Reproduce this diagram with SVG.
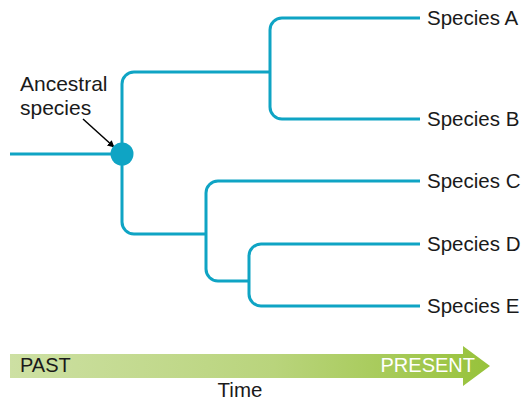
<svg xmlns="http://www.w3.org/2000/svg" width="525" height="404" viewBox="0 0 525 404">
  <defs>
    <style>
      .br { fill: none; stroke: #0fa4c4; stroke-width: 3; stroke-linecap: butt; stroke-linejoin: round; }
      .lbl { font-family: "Liberation Sans", Arial, sans-serif; font-size: 20.5px; fill: #1a1a1a; }
      .anc { font-size: 21px; }
      .bar { font-family: "Liberation Sans", Arial, sans-serif; font-size: 20px; }
    </style>
    <linearGradient id="timeGrad" x1="10" y1="0" x2="490" y2="0" gradientUnits="userSpaceOnUse">
      <stop offset="0" stop-color="#cde0a3"/>
      <stop offset="0.55" stop-color="#b9d47c"/>
      <stop offset="1" stop-color="#97c23a"/>
    </linearGradient>
    <marker id="blackArrow" viewBox="0 0 10 10" refX="9" refY="5" markerWidth="7" markerHeight="7" orient="auto" markerUnits="userSpaceOnUse">
      <path d="M0,0 L10,5 L0,10 z" fill="#000"/>
    </marker>
  </defs>
  <rect width="525" height="404" fill="#ffffff"/>

  <g id="connectors">
    <path class="br" d="M10,154 H122"/>
    <path class="br" d="M270,72 H134 A12,12 0 0 0 122,84 V222 A12,12 0 0 0 134,234 H206"/>
    <path class="br" d="M420,18 H282 A12,12 0 0 0 270,30 V107 A12,12 0 0 0 282,119 H420"/>
    <path class="br" d="M420,181 H218 A12,12 0 0 0 206,193 V269 A12,12 0 0 0 218,281 H249"/>
    <path class="br" d="M420,244 H261 A12,12 0 0 0 249,256 V294 A12,12 0 0 0 261,306 H420"/>
    <line x1="83" y1="119" x2="114" y2="147" stroke="#000" stroke-width="1.5" marker-end="url(#blackArrow)"/>
  </g>

  <g id="ancestor">
    <circle cx="122" cy="154" r="11.5" fill="#0fa4c4"/>
    <text class="lbl anc" x="20" y="91">Ancestral</text>
    <text class="lbl anc" x="20" y="115">species</text>
  </g>

  <g id="speciesA"><text class="lbl" x="427" y="25">Species A</text></g>
  <g id="speciesB"><text class="lbl" x="427" y="126">Species B</text></g>
  <g id="speciesC"><text class="lbl" x="427" y="188">Species C</text></g>
  <g id="speciesD"><text class="lbl" x="427" y="251">Species D</text></g>
  <g id="speciesE"><text class="lbl" x="427" y="313">Species E</text></g>

  <g id="timeline">
    <polygon points="10,354 463,354 463,346 490,366 463,386 463,378 10,378" fill="url(#timeGrad)"/>
    <text class="bar" x="20" y="372" fill="#1a1a1a">PAST</text>
    <text class="bar" x="475" y="372" fill="#ffffff" text-anchor="end">PRESENT</text>
    <text class="lbl" x="240" y="397" text-anchor="middle">Time</text>
  </g>
</svg>
